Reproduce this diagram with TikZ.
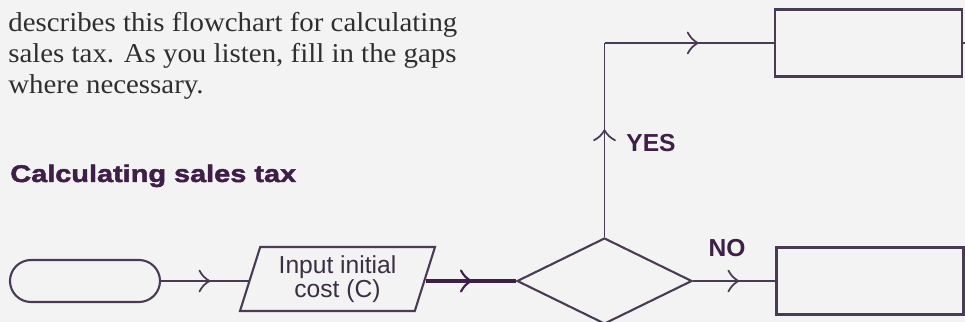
\documentclass[tikz,border=0pt]{standalone}
\usepackage{fontspec}
\setmainfont{Liberation Serif}
\setsansfont{Liberation Sans}
\newfontfamily\introfont{Liberation Serif}[FakeStretch=1.06]
\newfontfamily\headfont{Liberation Sans}[FakeStretch=1.2, BoldFeatures={FakeBold=2}]
\usepackage{xcolor}
\usepackage{tikz}
\usetikzlibrary{arrows.meta, calc, positioning, shapes.geometric, decorations.markings}

\definecolor{paper}{HTML}{F3F3F3}
\definecolor{ink}{HTML}{4A3B55}
\definecolor{plum}{HTML}{3E1F45}
\definecolor{bodytext}{HTML}{2F2F2F}

\tikzset{
  box/.style={draw=ink, line width=1.2pt, minimum width=3.74cm, minimum height=1.34cm, inner sep=0pt},
  chevron/.style={draw=ink, line width=1pt, line cap=round},
  flow/.style={draw=ink, line width=1pt, postaction={decorate},
    decoration={markings, mark=at position 0.55 with {\draw[chevron] (-2mm,2.1mm) to[bend right=15] (0,0) to[bend right=15] (-2mm,-2.1mm);}}},
  tag/.style={text=plum, font=\sffamily\bfseries\fontsize{14}{14}\selectfont, inner sep=0pt}
}

\begin{document}
\begin{tikzpicture}
\fill[paper] (0,0) rectangle (19.3,6.44);
\useasboundingbox (0,0) rectangle (19.3,6.44);
\coordinate (edge) at (19.3,0);
% instructions and heading
\node[anchor=north west, align=left, inner sep=0pt, text=bodytext, font=\introfont\fontsize{15.5}{17.6}\selectfont] (intro) at (0.16,6.2)
  {describes this flowchart for calculating\\ sales tax. As you listen, fill in the gaps\\ where necessary.};
\node[anchor=base west, inner sep=0pt, text=plum, font=\headfont\bfseries\fontsize{13.7}{14}\selectfont] (title) at (0.20,2.80) {Calculating sales tax};
% chart shapes
\node[draw=ink, line width=1.2pt, rounded corners=0.42cm, minimum width=3.0cm, minimum height=0.84cm] (start) at (1.70,0.82) {};
\node[draw=ink, line width=1.2pt, trapezium, trapezium left angle=67, trapezium right angle=113, trapezium stretches body,
  minimum width=3.9cm, minimum height=1.28cm, inner sep=0pt, align=center, text=ink!80!black, font=\sffamily\fontsize{14}{12.5}\selectfont] (input) at (6.75,0.86) {Input initial\\ cost (C)};
\node[draw=ink, line width=1.2pt, diamond, aspect=2, minimum width=3.5cm, minimum height=1.72cm, inner sep=0pt] (check) at (12.09,0.82) {};
\node[box] (yesbox) at (17.37,5.58) {};
\node[box] (nobox) at (17.40,0.82) {};
\coordinate (corner) at (check.north |- yesbox.west);
\coordinate (cost) at (check.west -| input.east);
% connectors
\draw[flow] (start) -- (start -| input.west);
\draw[plum, line width=1.8pt] (cost) -- (check.west);
\draw[chevron, draw=plum, line width=1.2pt] ($(cost)!0.5!(check.west)+(-2mm,2.1mm)$) to[bend right=15] ($(cost)!0.5!(check.west)$) to[bend right=15] ($(cost)!0.5!(check.west)+(-2mm,-2.1mm)$);
\draw[flow] (check.north) -- (corner);
\draw[flow] (corner) -- (yesbox.west);
\draw[flow] (check.east) -- (nobox.west);
\draw[ink, line width=1pt] (yesbox.east) -- (yesbox.east -| edge);
\draw[ink, line width=1pt] (nobox.east) -- (nobox.east -| edge);
\node[tag] (yes) at (13.02,3.58) {YES};
\node[tag] (no) at (14.54,1.48) {NO};
\end{tikzpicture}
\end{document}
